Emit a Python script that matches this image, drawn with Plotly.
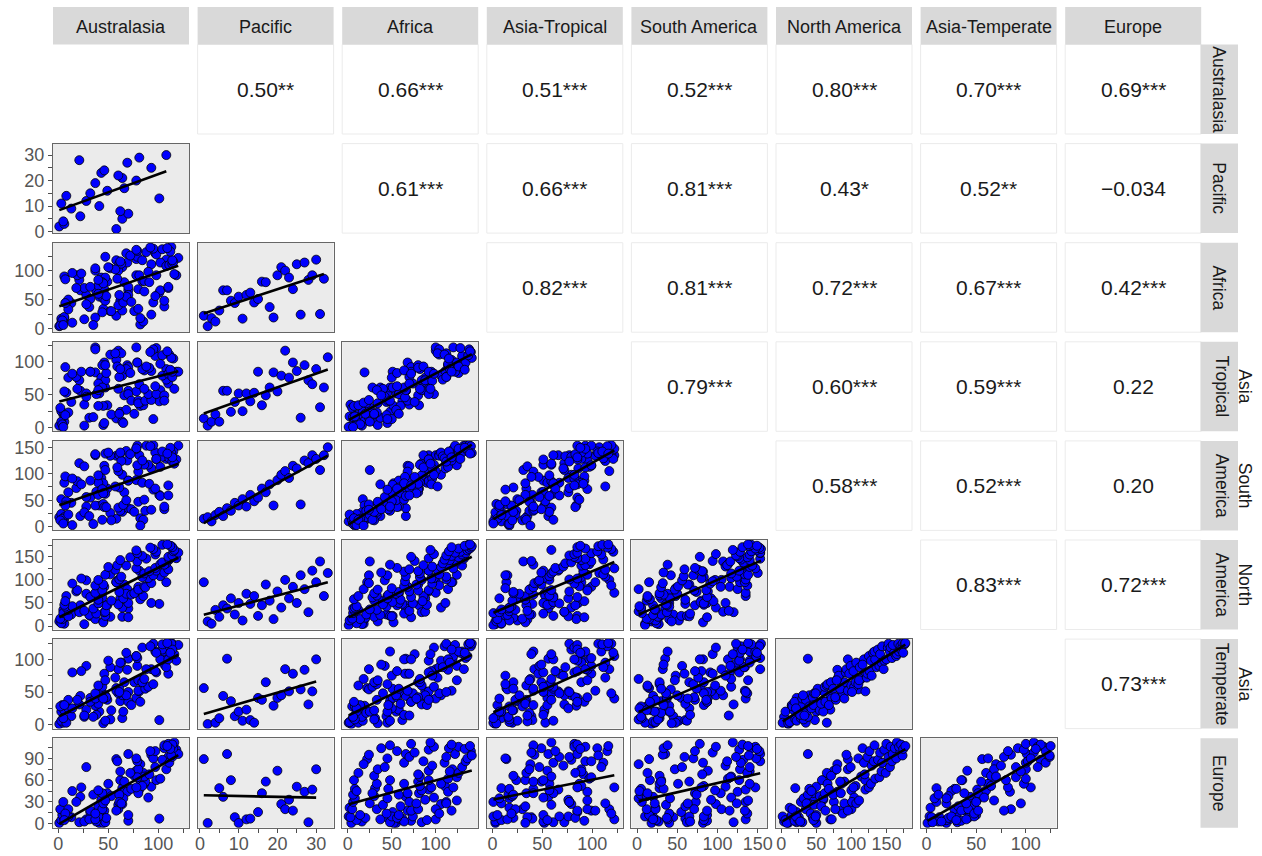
import numpy as np
import plotly.graph_objects as go

W, H = 1262, 856

# ---- region names (column strips on top, row strips on the right) ----
region_labels = ["Australasia", "Pacific", "Africa", "Asia-Tropical",
                 "South America", "North America", "Asia-Temperate", "Europe"]
row_labels = ["Australasia", "Pacific", "Africa", "Asia<br>Tropical",
              "South<br>America", "North<br>America", "Asia<br>Temperate", "Europe"]

# ---- rank of each family in each region (None = family absent) ----
australasia = [
    58, 1, 6, 5, 64, 22, 70, 62, 13, 41, 3, 28, 101, 8, 32, 49, 66, None, 37, 78,
    64, 60, 43, 46, 93, None, 69, 21, 81, 108, None, None, None,
    26, None, 45, 3, None, 45, 6, None, 52, 4,
    47, 2, None, 70, 5, 31, 46, 10, None, 38,
    10, 35, 47, 7, None, 48, None, 26, 60, 14,
    70, 6, 53, None, 82, 40, 65, 7, 44, 40,
    85, 32, 68, None, 37, 73, 18, 76, 19, 61,
    82, 44, 80, None, 37, 80, 45, 86, 14, 87,
    58, 93, 40, None, 90, 28, 84, 61, 102, 23,
    95, 63, 86, 52, None, 47, 98, 106, 57, 91,
    78, 110, 50, 97, 68, None, 102, 59, 108, 106,
    79, 104, 62, None, 88, 111, 72, 118, 84, 110,
    97, 114, 79, None, 98, 120, 78, 115, 95, 116,
    92, None, 113, 114, 104, 112, 109]

pacific = list(range(1, 34)) + [None] * 117

africa = [
    22, 4, 18, 12, 31, 66, 66, 48, 44, 55, 17, 58, 62, 45, 51, 81, 80, 37, 19, 92,
    106, 100, 88, 68, 111, 24, 114, 84, 92, 119, 25, 86, None,
    16, 1, 34, 10, 3, 52, 20, 2, 30, 14,
    48, 5, 21, 72, 6, 37, None, 50, 8, 64,
    33, 6, 88, 44, 25, 56, 8, 70, 40, 10,
    58, 90, 30, 51, 7, 74, 45, 85, 28, 60,
    12, 72, 55, 33, 100, 46, 70, 30, 92, 58,
    18, 80, 68, 50, 104, 34, 78, 64, 96, None,
    118, 24, 84, 65, 98, 42, 82, 112, 66, 95,
    45, 112, 82, 104, 64, 124, 92, 38, 102, 80,
    120, 70, 106, 56, 130, 96, 114, 86, 108, 48,
    124, None, 116, 76, 132, 110, 126, 92, 118, 72,
    130, 112, 134, 98, 128, 122, 136, 115, 138, 94,
    140, 126, 141, 118, 137, 133, 139]

asia_tropical = [
    14, 3, 9, 20, 9, 56, 56, 24, 39, 52, 25, 52, 40, 53, 85, 34, 49, 61, 84, 55,
    79, 117, 76, 99, 86, 15, 95, 72, 66, 89, 31, 61, 107,
    3, 1, 4, 9, 35, 33, 21, 17, None, 5,
    61, 30, 37, 92, 1, 15, 7, 76, 17, 51,
    23, 16, 72, 19, 9, 83, 17, 35, 59, None,
    51, 55, 20, 61, 33, 67, 7, 92, 61, 33,
    34, 85, 27, 57, 122, 41, 77, 21, 59, 21,
    38, 95, 41, 13, 119, 37, None, 87, 82, 41,
    103, 42, 57, 46, 51, 47, 89, 77, 57, 85,
    13, 113, 59, 111, 61, 95, 51, 49, 113, 91,
    122, 67, None, 63, 89, 71, 97, 93, 73, 41,
    99, 79, 89, 39, 93, 111, 83, 85, None, 82,
    109, 77, 99, 82, 121, 85, None, 105, 119, 59,
    115, 93, 106, 85, 110, 88, 116]

south_america = [
    15, 18, 10, 22, 28, 20, 35, 30, 45, 40, 52, 38, 60, 48, 55, 72, 65, 80, 40, 88,
    98, 105, 92, 115, 110, 42, 125, 120, 135, 128, 107, 135, 150,
    27, 10, 43, 24, 20, 82, 18, 23, 26, 15,
    62, 12, 30, 87, 6, 20, 37, 65, 2, 66,
    23, 5, 107, 40, 22, 37, 5, 114, 36, 3,
    87, 83, 12, 79, 16, 83, 41, 95, 13, 60,
    13, 87, 50, 28, 135, 33, 73, 28, 86, 74,
    2, 71, 104, 48, 137, 47, 63, 51, 91, 30,
    134, 32, 97, 94, 117, 56, 83, 135, 58, 80,
    70, 124, 117, 134, 82, 138, 127, 33, 76, 81,
    147, 59, 140, 72, 143, 110, 113, 112, 133, 38,
    116, 132, 140, 94, 153, 129, 137, 127, 125, 78,
    140, 123, 153, 98, 128, 153, 148, 142, 154, 119,
    152, 147, 139, 131, 142, 149, 138]

north_america = [
    95, 10, 5, 35, 20, 45, 38, 60, 25, 50, 12, 70, 48, 65, 22, 45, 90, 55, 15, 75,
    40, 100, 60, 85, 50, 110, 80, 30, 120, 95, 140, 65, 115,
    4, 2, 10, 6, 14, 8, 18, 12, 20, 15,
    22, 16, 25, 19, 28, 24, 30, 21, 32, 27,
    35, 38, 31, 42, 36, 45, 40, 33, 47, 43,
    50, 46, 55, 52, 58, 49, 60, 54, 62, 57,
    65, 63, 70, 66, 72, 68, 75, 71, 78, 74,
    80, 77, 85, 82, 88, 79, 90, 86, 92, 84,
    95, 93, 100, 97, 104, 99, 106, 101, 108, 103,
    110, 107, 114, 112, 118, 111, 120, 116, 122, 119,
    125, 123, 128, 126, 131, 129, 134, 132, 136, 133,
    140, 138, 143, 141, 146, 144, 149, 147, 152, 150,
    155, 153, 158, 156, 161, 159, 164, 162, 167, 165,
    170, 168, 173, 171, 176, 174, 177]

asia_temperate = [
    56, 1, None, 3, 10, 44, 101, 36, 13, 20, 6, 23, 7, 3, 41, 38, 65, None, 29, 41,
    45, 85, 51, 78, None, 54, 84, 31, 51, 100, None, None, None,
    12, 3, 2, 20, 5, None, 22, 4, 8, 30,
    6, 28, 18, 35, 10, None, 40, 25, 8, 15,
    38, 12, 45, None, 20, 42, 28, 14, 48, 25,
    50, 30, 22, 55, 35, 48, 20, None, 58, 32,
    60, 35, 45, 62, 40, 30, None, 65, 38, 55,
    70, 42, 52, 75, 48, 68, 40, None, 80, 55,
    52, 85, 60, 78, 58, 90, 65, 50, None, 82,
    62, 95, 70, 88, 100, 68, 80, 92, 72, None,
    105, 78, 98, 82, 110, 75, 100, None, 88, 112,
    90, 115, 95, 108, 85, 120, None, 98, 118, 100,
    112, 124, 102, 118, 110, 122, 105, None, 124, 108,
    120, 112, 124, 115, 123, 110, 125]

europe = [
    89, 1, None, None, 49, 37, 96, 60, 9, 1, None, 6, 7, None, 16, 42, 58, None, None, 73,
    27, 20, 33, 18, 51, None, 44, 2, 47, 75, None, None, None,
    3, 10, None, 5, 9, 1, 8, 22, None, 12,
    2, 20, None, 4, 30, 6, None, 10, 35, 3,
    20, 40, None, 14, 28, 8, 48, None, 26, 45,
    12, 5, 38, None, 60, 10, 35, None, 42, 24,
    70, 18, None, 55, 6, 48, 30, 66, None, 40,
    82, 20, 42, None, 14, 75, 28, 55, None, 58,
    18, 95, 46, None, 36, 78, 52, 30, None, 50,
    90, 28, 65, None, 84, 32, 60, 104, None, 68,
    50, 92, 55, 100, None, 80, 62, 86, None, 108,
    64, 88, 72, 98, None, 84, 70, 102, None, 110,
    78, 92, 86, 106, None, 96, 90, 104, None, 112,
    100, 106, 94, 109, None, 103, 107]

# ---- correlation labels of the upper triangle, one list per row ----
corr_australasia = ["0.50**", "0.66***", "0.51***", "0.52***", "0.80***", "0.70***", "0.69***"]
corr_pacific = ["0.61***", "0.66***", "0.81***", "0.43*", "0.52**", "\u22120.034"]
corr_africa = ["0.82***", "0.81***", "0.72***", "0.67***", "0.42***"]
corr_asia_tropical = ["0.79***", "0.60***", "0.59***", "0.22"]
corr_south_america = ["0.58***", "0.52***", "0.20"]
corr_north_america = ["0.83***", "0.72***"]
corr_asia_temperate = ["0.73***"]

# ---- axis set-up per region ----
axis_ranges = [[-5.3, 130.7], [-0.6, 34.5], [-6.4, 148.3], [-5.6, 130.5],
               [-7.0, 162.0], [-7.5, 186.5], [-6.0, 131.0], [-5.5, 117.8]]
label_step = [50, 10, 50, 50, 50, 50, 50, 30]
tick_step = [25, 5, 25, 25, 25, 25, 25, 15]

columns = [australasia, pacific, africa, asia_tropical,
           south_america, north_america, asia_temperate, europe]
corr_rows = [corr_australasia, corr_pacific, corr_africa, corr_asia_tropical,
             corr_south_america, corr_north_america, corr_asia_temperate]

FONT = "Liberation Sans, Arial, sans-serif"


def col_px(c):
    x0 = 53 + 144.6 * c
    return x0, x0 + 136


def row_px(r):
    y0 = 44.5 + 99.1 * r
    return y0, y0 + 89.5


def px_x(v):
    return v / W


def px_y(v):
    return 1 - v / H


def tick_setup(i):
    vals = np.arange(0, axis_ranges[i][1], tick_step[i])
    text = [str(int(v)) if int(v) % label_step[i] == 0 else "" for v in vals]
    return list(vals), text


fig = go.Figure()
layout_axes = {}
shapes = []
annotations = []

k = 0
for r in range(8):
    for c in range(8):
        x0, x1 = col_px(c)
        y0, y1 = row_px(r)
        if r > c:
            k += 1
            xa = "x" if k == 1 else f"x{k}"
            ya = "y" if k == 1 else f"y{k}"
            xv = np.array(columns[c], dtype=float)
            yv = np.array(columns[r], dtype=float)
            m = ~np.isnan(xv) & ~np.isnan(yv)
            xs, ys = xv[m], yv[m]
            fig.add_trace(go.Scatter(
                x=xs, y=ys, mode="markers", xaxis=xa, yaxis=ya,
                marker=dict(size=9, color="#0000FF",
                            line=dict(color="#000000", width=0.8)),
                showlegend=False, hoverinfo="skip"))
            slope, icpt = np.polyfit(xs, ys, 1)
            lx = np.array([xs.min(), xs.max()])
            fig.add_trace(go.Scatter(
                x=lx, y=slope * lx + icpt, mode="lines", xaxis=xa, yaxis=ya,
                line=dict(color="#000000", width=2.6),
                showlegend=False, hoverinfo="skip"))
            xt_vals, xt_text = tick_setup(c)
            yt_vals, yt_text = tick_setup(r)
            common = dict(showgrid=False, zeroline=False, showline=True, mirror=True,
                          linecolor="#666666", linewidth=1, automargin=False,
                          ticklen=4, tickwidth=1, tickcolor="#4D4D4D",
                          tickfont=dict(family=FONT, size=18, color="#555555"),
                          fixedrange=True)
            layout_axes["xaxis" if k == 1 else f"xaxis{k}"] = dict(
                domain=[px_x(x0), px_x(x1)], anchor=ya, range=axis_ranges[c],
                tickvals=xt_vals, ticktext=xt_text,
                ticks="outside" if r == 7 else "", showticklabels=(r == 7),
                ticklabelstandoff=-4, **common)
            layout_axes["yaxis" if k == 1 else f"yaxis{k}"] = dict(
                domain=[px_y(y1), px_y(y0)], anchor=xa, range=axis_ranges[r],
                tickvals=yt_vals, ticktext=yt_text,
                ticks="outside" if c == 0 else "", showticklabels=(c == 0),
                **common)
        elif r < c:
            shapes.append(dict(type="rect", xref="paper", yref="paper",
                               x0=px_x(x0), x1=px_x(x1), y0=px_y(y1), y1=px_y(y0),
                               fillcolor="#FFFFFF", line=dict(color="#EBEBEB", width=1)))
            annotations.append(dict(
                x=px_x((x0 + x1) / 2), y=px_y((y0 + y1) / 2), xref="paper", yref="paper",
                text=corr_rows[r][c - r - 1], showarrow=False,
                font=dict(family=FONT, size=21, color="#1A1A1A"),
                xanchor="center", yanchor="middle"))

# column strips along the top
for c in range(8):
    x0, x1 = col_px(c)
    shapes.append(dict(type="rect", xref="paper", yref="paper",
                       x0=px_x(x0), x1=px_x(x1), y0=px_y(44.5), y1=px_y(7),
                       fillcolor="#D9D9D9", line=dict(width=0)))
    annotations.append(dict(
        x=px_x((x0 + x1) / 2), y=px_y(26.5), xref="paper", yref="paper",
        text=region_labels[c], showarrow=False,
        font=dict(family=FONT, size=18, color="#1A1A1A"),
        xanchor="center", yanchor="middle"))

# row strips along the right
for r in range(8):
    y0, y1 = row_px(r)
    shapes.append(dict(type="rect", xref="paper", yref="paper",
                       x0=px_x(1200.5), x1=px_x(1238), y0=px_y(y1), y1=px_y(y0),
                       fillcolor="#D9D9D9", line=dict(width=0)))
    two_line = "<br>" in row_labels[r]
    annotations.append(dict(
        x=px_x(1233 if two_line else 1219), y=px_y((y0 + y1) / 2),
        xref="paper", yref="paper",
        text=row_labels[r], showarrow=False, textangle=90,
        font=dict(family=FONT, size=17.5, color="#1A1A1A"),
        xanchor="center", yanchor="middle"))

fig.update_layout(
    width=W, height=H, template="none",
    margin=dict(l=0, r=0, t=0, b=0, autoexpand=False),
    paper_bgcolor="#FFFFFF", plot_bgcolor="#EBEBEB",
    font=dict(family=FONT, size=18, color="#1A1A1A"),
    shapes=shapes, annotations=annotations, showlegend=False,
    **layout_axes)

fig.write_html("out.html", include_plotlyjs=True, config={"displayModeBar": False})
